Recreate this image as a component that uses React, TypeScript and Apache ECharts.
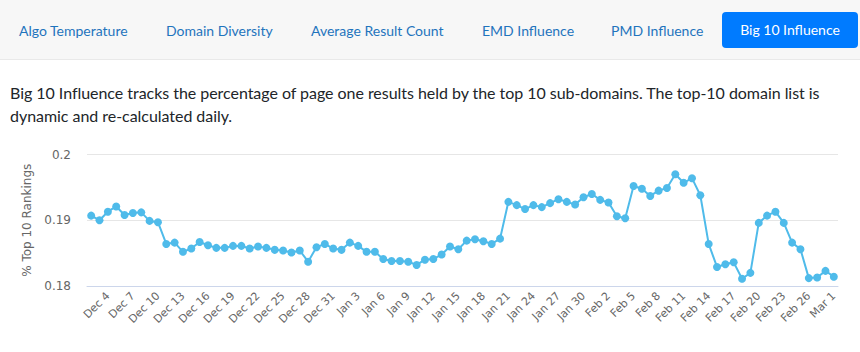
import React, { useEffect, useRef } from "react";
import * as echarts from "echarts";

const tabs = ["Algo Temperature", "Domain Diversity", "Average Result Count", "EMD Influence", "PMD Influence"];
const tabLefts = [19, 166, 311, 482, 611];
const activeTab = "Big 10 Influence";

const description1 = "Big 10 Influence tracks the percentage of page one results held by the top 10 sub-domains. The top-10 domain list is";
const description2 = "dynamic and re-calculated daily.";

const categories = [
  "Dec 2", "Dec 3", "Dec 4", "Dec 5", "Dec 6", "Dec 7", "Dec 8", "Dec 9", "Dec 10", "Dec 11",
  "Dec 12", "Dec 13", "Dec 14", "Dec 15", "Dec 16", "Dec 17", "Dec 18", "Dec 19", "Dec 20", "Dec 21",
  "Dec 22", "Dec 23", "Dec 24", "Dec 25", "Dec 26", "Dec 27", "Dec 28", "Dec 29", "Dec 30", "Dec 31",
  "Jan 1", "Jan 2", "Jan 3", "Jan 4", "Jan 5", "Jan 6", "Jan 7", "Jan 8", "Jan 9", "Jan 10",
  "Jan 11", "Jan 12", "Jan 13", "Jan 14", "Jan 15", "Jan 16", "Jan 17", "Jan 18", "Jan 19", "Jan 20",
  "Jan 21", "Jan 22", "Jan 23", "Jan 24", "Jan 25", "Jan 26", "Jan 27", "Jan 28", "Jan 29", "Jan 30",
  "Jan 31", "Feb 1", "Feb 2", "Feb 3", "Feb 4", "Feb 5", "Feb 6", "Feb 7", "Feb 8", "Feb 9",
  "Feb 10", "Feb 11", "Feb 12", "Feb 13", "Feb 14", "Feb 15", "Feb 16", "Feb 17", "Feb 18", "Feb 19",
  "Feb 20", "Feb 21", "Feb 22", "Feb 23", "Feb 24", "Feb 25", "Feb 26", "Feb 27", "Feb 28", "Mar 1",
];

const big10Share = [
  0.1907, 0.1900, 0.1913, 0.1921, 0.1908, 0.1911, 0.1912, 0.1899, 0.1897, 0.1864,
  0.1866, 0.1852, 0.1857, 0.1867, 0.1862, 0.1858, 0.1858, 0.1861, 0.1861, 0.1857,
  0.1860, 0.1858, 0.1855, 0.1854, 0.1851, 0.1854, 0.1837, 0.1859, 0.1864, 0.1857,
  0.1855, 0.1866, 0.1861, 0.1852, 0.1852, 0.1841, 0.1838, 0.1838, 0.1837, 0.1832,
  0.1840, 0.1841, 0.1848, 0.1860, 0.1856, 0.1869, 0.1871, 0.1868, 0.1864, 0.1872,
  0.1928, 0.1923, 0.1917, 0.1923, 0.1920, 0.1926, 0.1932, 0.1928, 0.1924, 0.1935,
  0.1940, 0.1931, 0.1927, 0.1906, 0.1903, 0.1952, 0.1948, 0.1937, 0.1945, 0.1949,
  0.1970, 0.1957, 0.1964, 0.1938, 0.1864, 0.1829, 0.1833, 0.1836, 0.1811, 0.1820,
  0.1896, 0.1907, 0.1913, 0.1896, 0.1866, 0.1856, 0.1812, 0.1813, 0.1823, 0.1814,
];

const yMin = 0.18;
const yMax = 0.2;
const yStep = 0.01;
const yTitle = "% Top 10 Rankings";

const LINE = "#4fbbea";
const LABEL = "#666666";

export default function App() {
  const ref = useRef<HTMLDivElement>(null);

  useEffect(() => {
    if (!ref.current) return;
    const chart = echarts.init(ref.current, null, { renderer: "svg" });
    chart.setOption({
      animation: false,
      grid: { left: 87, right: 22, top: 154.5, bottom: 66, containLabel: false },
      xAxis: {
        type: "category",
        data: categories,
        boundaryGap: true,
        axisLine: { show: true, lineStyle: { color: "#ccd6eb", width: 1 } },
        axisTick: { show: false },
        axisLabel: {
          interval: (i: number) => i % 3 === 2,
          rotate: 45,
          color: LABEL,
          fontSize: 11,
          fontFamily: "DejaVu Sans",
          margin: 8,
        },
        splitLine: { show: false },
      },
      yAxis: {
        type: "value",
        min: yMin,
        max: yMax,
        interval: yStep,
        name: yTitle,
        nameLocation: "middle",
        nameRotate: 90,
        nameGap: 48,
        nameTextStyle: { color: LABEL, fontSize: 12, fontFamily: "DejaVu Sans" },
        axisLine: { show: false },
        axisTick: { show: false },
        axisLabel: { color: LABEL, fontSize: 12, fontFamily: "DejaVu Sans", margin: 16 },
        splitLine: { lineStyle: { color: "#e6e6e6", width: 1 } },
      },
      series: [
        {
          type: "line",
          data: big10Share,
          symbol: "circle",
          symbolSize: 8,
          showAllSymbol: true,
          lineStyle: { color: LINE, width: 2 },
          itemStyle: { color: LINE, borderWidth: 0 },
        },
      ],
    });
    return () => chart.dispose();
  }, []);

  return (
    <div style={{ position: "absolute", left: 0, top: 0, width: 860, height: 352, background: "#fff", overflow: "hidden" }}>
      <div style={{ position: "absolute", left: 0, top: 0, width: 860, height: 59, background: "#f7f7f7", borderBottom: "1px solid #e9e9e9" }} />
      {tabs.map((t, i) => (
        <div
          key={t}
          style={{
            position: "absolute",
            left: tabLefts[i],
            top: 19,
            height: 24,
            lineHeight: "24px",
            fontFamily: "Lato",
            fontSize: 14,
            color: "#1f74bd",
            whiteSpace: "nowrap",
          }}
        >
          {t}
        </div>
      ))}
      <div
        style={{
          position: "absolute",
          left: 722,
          top: 12,
          width: 136,
          height: 36,
          borderRadius: 4,
          background: "#007bff",
          color: "#fff",
          fontFamily: "Lato",
          fontSize: 14,
          lineHeight: "36px",
          textAlign: "center",
          whiteSpace: "nowrap",
        }}
      >
        {activeTab}
      </div>
      <div
        style={{
          position: "absolute",
          left: 10,
          top: 81,
          width: 845,
          fontFamily: "Lato",
          fontSize: 16,
          lineHeight: "23px",
          letterSpacing: "-0.04px",
          color: "#212529",
        }}
      >
        {description1}
        <br />
        {description2}
      </div>
      <div ref={ref} style={{ position: "absolute", left: 0, top: 0, width: 860, height: 352 }} />
    </div>
  );
}
